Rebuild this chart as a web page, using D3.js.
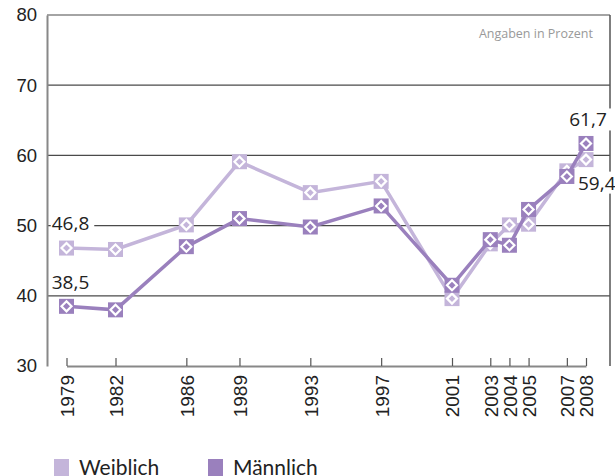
<!DOCTYPE html>
<html>
<head>
<meta charset="utf-8">
<script src="https://cdn.jsdelivr.net/npm/d3@7"></script>
<style>
  body { margin: 0; background: #fff; }
  svg { display: block; font-family: "Open Sans", sans-serif; }
</style>
</head>
<body>
<svg width="615" height="476"></svg>
<script>
// chart data
var years = [1979, 1982, 1986, 1989, 1993, 1997, 2001, 2003, 2004, 2005, 2007, 2008];
var weiblich = [46.8, 46.6, 50.1, 59.1, 54.7, 56.3, 39.6, 47.4, 50.1, 50.2, 57.8, 59.4];
var maennlich = [38.5, 38.0, 47.0, 51.0, 49.8, 52.8, 41.5, 48.0, 47.2, 52.3, 57.0, 61.7];
var yTicks = [30, 40, 50, 60, 70, 80];
var seriesNames = ["Weiblich", "Männlich"];
var seriesColors = ["#c4b5da", "#9a80bd"];

var svg = d3.select("svg"),
margin = {top: 15, right: 5, bottom: 110, left: 47},
width = 610 - margin.left,
height = 366 - margin.top;

// the original spaces the survey years a little unevenly
var x = d3.scaleLinear().domain([1979, 1982, 2001, 2008]).range([19.5, 68.5, 405, 539]),
y = d3.scaleLinear().domain([30, 80]).range([height, 0]);

var g = svg.append("g")
.attr("transform", "translate(" + margin.left + "," + margin.top + ")");

// horizontal grid lines
g.selectAll(".grid")
.data(yTicks.slice(1))
.enter().append("line")
.attr("class", "grid")
.attr("x1", 0).attr("x2", width)
.attr("y1", function(d) { return y(d); })
.attr("y2", function(d) { return y(d); })
.attr("stroke", "#4a4a4a")
.attr("stroke-width", 1.2);

// right border
g.append("line")
.attr("x1", width).attr("x2", width)
.attr("y1", 0).attr("y2", height)
.attr("stroke", "#555").attr("stroke-width", 1.5);

// y axis
var yAxis = g.append("g")
.call(d3.axisLeft(y).tickValues(yTicks).tickSize(0).tickPadding(10));
yAxis.select(".domain").attr("stroke", "#888").attr("stroke-width", 2);
yAxis.selectAll("text")
.style("font-size", "18.5px").attr("fill", "#222");

// x axis, ticks pointing inward
var xAxis = g.append("g")
.attr("transform", "translate(0," + height + ")")
.call(d3.axisBottom(x).tickValues(years).tickFormat(d3.format("d")).tickSizeInner(-8).tickSizeOuter(0));
xAxis.select(".domain").attr("stroke", "#888").attr("stroke-width", 2);
xAxis.selectAll(".tick line").attr("stroke", "#555").attr("stroke-width", 1.2);
xAxis.selectAll("text")
.attr("transform", "rotate(-90)")
.attr("x", -9).attr("y", 0).attr("dy", "0.36em")
.style("text-anchor", "end")
.style("font-size", "19px").attr("fill", "#222");

g.append("text")
.attr("x", width - 17).attr("y", 23)
.attr("text-anchor", "end")
.attr("fill", "#999")
.style("font-size", "12.5px")
.text("Angaben in Prozent");

var line = d3.line()
.x(function(d) { return x(d.year); })
.y(function(d) { return y(d.value); });

[weiblich, maennlich].forEach(function(values, s) {
  var pts = years.map(function(yr, i) { return {year: yr, value: values[i]}; });
  var color = seriesColors[s];
  g.append("path")
  .datum(pts)
  .attr("fill", "none")
  .attr("stroke", color)
  .attr("stroke-width", 3.5)
  .attr("d", line);

  var m = g.selectAll(".m" + s)
  .data(pts)
  .enter().append("g")
  .attr("class", "m" + s)
  .attr("transform", function(d) { return "translate(" + x(d.year) + "," + y(d.value) + ")"; });
  m.append("rect")
  .attr("x", -7.5).attr("y", -7.5)
  .attr("width", 15).attr("height", 15)
  .attr("fill", color);
  m.append("path")
  .attr("d", "M0,-5 L5,0 L0,5 L-5,0 Z")
  .attr("fill", "none")
  .attr("stroke", "#fff")
  .attr("stroke-width", 2.2);
});

// value labels (white box hides the grid line behind them)
var fmt = function(v) { return String(v).replace(".", ","); };
var labels = [
  {year: years[0], value: weiblich[0], dx: 4, dy: -18, anchor: "middle"},
  {year: years[0], value: maennlich[0], dx: 4, dy: -17, anchor: "middle"},
  {year: years[11], value: maennlich[11], dx: 2, dy: -17, anchor: "middle"},
  {year: years[11], value: weiblich[11], dx: -8, dy: 30, anchor: "start"}
];
var vl = g.selectAll(".vlabel")
.data(labels)
.enter().append("g")
.attr("class", "vlabel");
vl.append("text")
.attr("x", function(d) { return x(d.year) + d.dx; })
.attr("y", function(d) { return y(d.value) + d.dy; })
.attr("text-anchor", function(d) { return d.anchor; })
.attr("fill", "#222")
.style("font-size", "19px")
.text(function(d) { return fmt(d.value); });
vl.each(function() {
  var grp = d3.select(this), bb = grp.select("text").node().getBBox();
  grp.insert("rect", "text")
  .attr("x", bb.x - 1).attr("y", bb.y + 2)
  .attr("width", bb.width + 6).attr("height", bb.height - 4)
  .attr("fill", "#fff");
});

// legend
var legend = svg.append("g").attr("transform", "translate(54,459)");
var item = legend.selectAll(".item")
.data(seriesNames)
.enter().append("g")
.attr("transform", function(d, i) { return "translate(" + (i * 154) + ",0)"; });
item.append("rect")
.attr("width", 15).attr("height", 17)
.attr("fill", function(d, i) { return seriesColors[i]; });
item.append("text")
.attr("x", 25).attr("y", 15.5)
.attr("fill", "#222")
.style("font-family", "Lato, sans-serif")
.style("font-size", "21px")
.text(function(d) { return d; });
</script>
</body>
</html>
